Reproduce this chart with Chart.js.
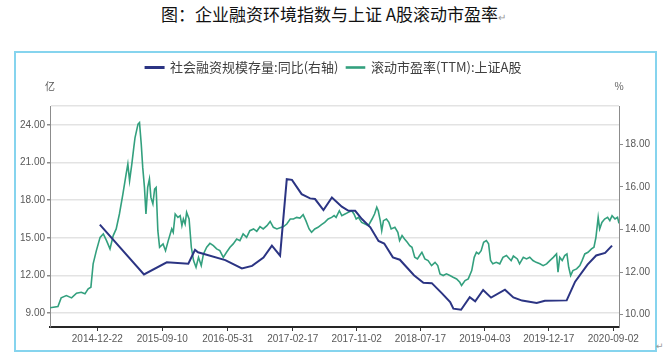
<!DOCTYPE html>
<html>
<head>
<meta charset="utf-8">
<script src="https://cdn.jsdelivr.net/npm/chart.js@4.4.1/dist/chart.umd.min.js"></script>
<style>
  html, body { margin: 0; padding: 0; background: #fff; }
  #wrap { position: relative; width: 667px; height: 354px; overflow: hidden; }
  #title { position: absolute; left: 0; top: 1px; width: 667px; text-align: center;
           font-family: "Noto Sans CJK SC", sans-serif; font-size: 17px; font-weight: 400; color: #111; }
  #title span { color: #999; font-size: 10px; }
  #frame { position: absolute; left: 14px; top: 51px; width: 639px; height: 297px;
           border: 2px solid #86D4EE; }
  #corner { position: absolute; left: 656px; top: 341px; color: #999; font-size: 9px;
            font-family: "DejaVu Sans", sans-serif; }
  #chart { position: absolute; left: 0; top: 0; }
</style>
</head>
<body>
<div id="wrap">
  <div id="title">图：企业融资环境指数与上证 A股滚动市盈率<span>↵</span></div>
  <div id="frame"></div>
  <div id="corner">↵</div>
  <canvas id="chart" width="667" height="354"></canvas>
</div>
<script>
// 横轴刻度
const xTickLabels = ['2014-12-22', '2015-09-10', '2016-05-31', '2017-02-17', '2017-11-02',
                     '2018-07-17', '2019-04-03', '2019-12-17', '2020-09-02'];
const leftTicks = [9, 12, 15, 18, 21, 24];
const rightTicks = [10, 12, 14, 16, 18];

// 社会融资规模存量:同比(右轴)
const tsfDates = ['2015-01-01', '2015-06-28', '2015-09-28', '2015-12-24', '2016-01-20', '2016-02-01',
  '2016-05-21', '2016-07-27', '2016-09-06', '2016-10-22', '2016-11-25', '2016-12-28',
  '2017-01-24', '2017-02-14', '2017-03-25', '2017-04-28', '2017-05-18', '2017-06-21',
  '2017-07-25', '2017-09-03', '2017-09-30', '2017-10-27', '2017-11-23', '2017-12-27',
  '2018-01-29', '2018-02-21', '2018-03-28', '2018-04-25', '2018-06-21', '2018-07-29',
  '2018-09-01', '2018-10-12', '2018-11-14', '2018-11-27', '2018-12-28', '2019-02-01',
  '2019-02-23', '2019-03-27', '2019-04-28', '2019-06-23', '2019-07-27', '2019-08-31',
  '2019-10-29', '2019-12-01', '2020-02-27', '2020-04-01', '2020-05-21', '2020-06-25',
  '2020-07-31', '2020-08-28'];
const tsfValues = [14.23, 11.89, 12.46, 12.39, 13.04, 12.93,
  12.56, 12.17, 12.29, 12.68, 13.24, 12.77,
  16.36, 16.33, 15.66, 15.46, 15.43, 14.91,
  15.50, 15.07, 14.88, 14.88, 14.49, 14.10,
  13.46, 13.34, 12.69, 12.58, 11.85, 11.50,
  11.48, 11.00, 10.59, 10.28, 10.23, 10.82,
  10.63, 11.16, 10.80, 11.17, 10.81, 10.66,
  10.55, 10.65, 10.67, 11.55, 12.35, 12.78,
  12.90, 13.24];

// 滚动市盈率(TTM):上证A股
const peDates = ['2014-06-14', '2014-07-16', '2014-07-29', '2014-08-19', '2014-09-09', '2014-09-29',
  '2014-10-18', '2014-11-02', '2014-11-15', '2014-11-26', '2014-12-05', '2014-12-18',
  '2015-01-02', '2015-01-15', '2015-01-28', '2015-02-11', '2015-02-24', '2015-03-08',
  '2015-03-21', '2015-04-04', '2015-04-17', '2015-04-24', '2015-05-01', '2015-05-10',
  '2015-05-18', '2015-05-23', '2015-06-04', '2015-06-10', '2015-06-17', '2015-06-23',
  '2015-06-30', '2015-07-06', '2015-07-13', '2015-07-20', '2015-07-26', '2015-08-03',
  '2015-08-10', '2015-08-16', '2015-08-23', '2015-08-30', '2015-09-13', '2015-09-23',
  '2015-10-04', '2015-10-18', '2015-10-24', '2015-11-01', '2015-11-12', '2015-11-21',
  '2015-11-28', '2015-12-04', '2015-12-11', '2015-12-17', '2015-12-27', '2016-01-05',
  '2016-01-14', '2016-01-24', '2016-02-03', '2016-02-14', '2016-02-23', '2016-03-07',
  '2016-03-20', '2016-04-03', '2016-04-16', '2016-04-29', '2016-05-13', '2016-05-26',
  '2016-06-09', '2016-06-22', '2016-07-06', '2016-07-19', '2016-08-01', '2016-08-15',
  '2016-08-28', '2016-09-12', '2016-09-25', '2016-10-08', '2016-10-21', '2016-11-05',
  '2016-11-18', '2016-12-01', '2016-12-15', '2016-12-28', '2017-01-11', '2017-01-24',
  '2017-02-07', '2017-02-20', '2017-03-05', '2017-03-18', '2017-03-31', '2017-04-11',
  '2017-04-24', '2017-05-04', '2017-05-17', '2017-05-30', '2017-06-13', '2017-06-26',
  '2017-07-10', '2017-07-24', '2017-08-03', '2017-08-11', '2017-08-24', '2017-09-03',
  '2017-09-16', '2017-09-29', '2017-10-13', '2017-10-22', '2017-10-31', '2017-11-09',
  '2017-11-22', '2017-12-06', '2017-12-19', '2018-01-03', '2018-01-13', '2018-01-22',
  '2018-01-28', '2018-02-05', '2018-02-11', '2018-02-18', '2018-03-02', '2018-03-12',
  '2018-03-21', '2018-04-05', '2018-04-17', '2018-04-24', '2018-05-04', '2018-05-14',
  '2018-05-25', '2018-06-04', '2018-06-13', '2018-06-24', '2018-07-05', '2018-07-14',
  '2018-07-23', '2018-08-04', '2018-08-17', '2018-08-31', '2018-09-14', '2018-09-25',
  '2018-10-04', '2018-10-17', '2018-10-30', '2018-11-13', '2018-11-26', '2018-12-10',
  '2018-12-23', '2018-12-30', '2019-01-13', '2019-01-26', '2019-02-09', '2019-02-19',
  '2019-02-28', '2019-03-09', '2019-03-19', '2019-03-29', '2019-04-09', '2019-04-18',
  '2019-04-26', '2019-05-05', '2019-05-19', '2019-06-02', '2019-06-15', '2019-06-29',
  '2019-07-12', '2019-07-18', '2019-07-27', '2019-08-12', '2019-08-21', '2019-09-05',
  '2019-09-18', '2019-10-01', '2019-10-14', '2019-10-27', '2019-11-11', '2019-11-24',
  '2019-12-08', '2019-12-21', '2020-01-04', '2020-01-17', '2020-01-23', '2020-01-30',
  '2020-02-09', '2020-02-19', '2020-02-28', '2020-03-06', '2020-03-14', '2020-03-23',
  '2020-04-07', '2020-04-20', '2020-04-29', '2020-05-10', '2020-05-23', '2020-06-06',
  '2020-06-16', '2020-06-24', '2020-07-03', '2020-07-09', '2020-07-18', '2020-07-29',
  '2020-08-10', '2020-08-19', '2020-08-28', '2020-09-09', '2020-09-19', '2020-09-25'];
const peValues = [9.43, 9.53, 10.22, 10.40, 10.22, 10.59,
  10.67, 10.54, 10.94, 11.07, 12.93, 13.98,
  15.04, 15.31, 14.78, 14.12, 15.18, 15.71,
  16.90, 18.49, 20.08, 20.87, 19.55, 20.87,
  22.20, 22.99, 24.06, 24.18, 22.47, 20.61,
  19.02, 16.90, 19.02, 19.68, 18.22, 17.70,
  18.89, 19.02, 15.57, 14.25, 14.52, 13.98,
  14.78, 15.71, 15.44, 16.90, 16.63, 16.77,
  15.97, 16.50, 16.10, 17.03, 16.50, 14.25,
  13.19, 12.66, 13.45, 12.79, 13.72, 14.25,
  14.56, 14.38, 14.12, 13.98, 13.45, 13.85,
  14.25, 14.52, 14.91, 14.78, 15.31, 15.04,
  15.57, 15.71, 15.52, 15.89, 15.71, 15.97,
  16.31, 15.84, 15.71, 15.80, 15.90, 16.10,
  16.50, 16.50, 16.63, 16.58, 16.85, 16.37,
  15.71, 15.44, 15.71, 15.84, 16.05, 16.23,
  16.50, 16.63, 16.77, 16.63, 17.16, 16.77,
  16.90, 17.03, 17.16, 16.90, 16.50, 16.63,
  16.23, 16.10, 15.97, 16.50, 16.90, 17.43,
  17.16, 16.37, 15.57, 16.37, 16.50, 16.23,
  15.71, 15.84, 15.44, 14.78, 15.18, 14.91,
  14.64, 14.38, 14.25, 13.45, 13.32, 13.59,
  13.85, 13.32, 13.19, 12.79, 13.05, 12.79,
  12.13, 12.00, 12.13, 12.00, 11.86, 11.73,
  11.46, 11.20, 11.60, 11.73, 12.39, 13.45,
  13.85, 13.72, 13.98, 14.64, 14.78, 14.52,
  13.19, 12.93, 13.05, 12.93, 13.45, 13.59,
  13.32, 13.19, 13.55, 13.32, 12.93, 13.45,
  13.32, 13.45, 13.19, 13.05, 12.93, 12.79,
  12.93, 13.19, 13.45, 13.72, 12.26, 13.45,
  13.19, 13.59, 13.72, 12.66, 12.00, 12.39,
  12.53, 12.79, 13.19, 13.72, 13.85, 14.12,
  14.25, 15.04, 16.63, 15.71, 16.23, 16.50,
  16.63, 16.37, 16.77, 16.50, 16.63, 16.15];

// 日期 -> 天数
function dayOf(s) {
    return Date.parse(s + 'T00:00:00Z') / 86400000;
}

const leftMax = 25.5;
const tickFont = { family: '"Liberation Sans", Arial, sans-serif', size: 10 };
const axisGrey = '#8C8C8C';

// 图例和坐标区之间留空
const legendGap = {
    id: 'legendGap',
    afterInit(chart) {
        const fit = chart.legend.fit;
        chart.legend.fit = function () {
            fit.bind(chart.legend)();
            this.height += 22;
        };
    }
};

// 坐标轴单位
const unitLabels = {
    id: 'unitLabels',
    afterDraw(chart) {
        const { ctx, chartArea, scales } = chart;
        ctx.save();
        ctx.font = '10px "Noto Sans CJK SC", sans-serif';
        ctx.fillStyle = '#595959';
        ctx.textAlign = 'center';
        ctx.textBaseline = 'middle';
        ctx.fillText('亿', scales.y.right, chartArea.top - 20);
        ctx.fillText('%', scales.y1.left, chartArea.top - 20);
        ctx.restore();
    }
};

new Chart(document.getElementById('chart'), {
    type: 'line',
    data: {
        datasets: [{
            label: '社会融资规模存量:同比(右轴)',
            data: tsfDates.map((d, i) => ({ x: dayOf(d), y: tsfValues[i] })),
            borderColor: '#2B3483',
            backgroundColor: '#2B3483',
            borderWidth: 2,
            pointRadius: 0,
            yAxisID: 'y1'
        }, {
            label: '滚动市盈率(TTM):上证A股',
            data: peDates.map((d, i) => ({ x: dayOf(d), y: peValues[i] })),
            borderColor: '#33A07E',
            backgroundColor: '#33A07E',
            borderWidth: 1.6,
            pointRadius: 0,
            yAxisID: 'y'
        }]
    },
    options: {
        responsive: false,
        animation: false,
        layout: { padding: { top: 53, left: 0, right: 0, bottom: 5 } },
        plugins: {
            tooltip: { enabled: false },
            legend: {
                position: 'top',
                labels: {
                    boxWidth: 18,
                    boxHeight: 1,
                    padding: 8,
                    color: '#404040',
                    font: { family: '"Noto Sans CJK SC", sans-serif', size: 13 }
                }
            }
        },
        scales: {
            x: {
                type: 'linear',
                min: dayOf('2014-06-14'),
                max: dayOf('2020-09-25'),
                afterFit: s => { s.height = 22; },
                afterBuildTicks: s => { s.ticks = xTickLabels.map(d => ({ value: dayOf(d) })); },
                ticks: {
                    autoSkip: false,
                    maxRotation: 0,
                    padding: 2,
                    color: '#595959',
                    font: tickFont,
                    callback: (v, i) => xTickLabels[i]
                },
                grid: { drawOnChartArea: false, tickLength: 4, tickColor: '#333' },
                border: { color: '#262626', width: 2 }
            },
            y: {
                position: 'left',
                min: 7.9,
                max: leftMax,
                afterFit: s => { s.width = 50; },
                afterBuildTicks: s => { s.ticks = leftTicks.concat([leftMax]).map(v => ({ value: v })); },
                ticks: {
                    padding: 2,
                    color: '#595959',
                    font: tickFont,
                    callback: v => (v === leftMax ? '' : v.toFixed(2))
                },
                grid: {
                    color: '#E3E3E3',
                    lineWidth: 1.5,
                    tickLength: 3,
                    tickColor: ctx => (ctx.tick && ctx.tick.value === leftMax ? 'rgba(0,0,0,0)' : axisGrey)
                },
                border: { color: axisGrey, width: 1 }
            },
            y1: {
                position: 'right',
                min: 9.42,
                max: 19.8,
                afterFit: s => { s.width = 48; },
                afterBuildTicks: s => { s.ticks = rightTicks.map(v => ({ value: v })); },
                ticks: {
                    padding: 2,
                    color: '#595959',
                    font: tickFont,
                    callback: v => v.toFixed(2)
                },
                grid: { drawOnChartArea: false, tickLength: 4, tickColor: axisGrey },
                border: { color: axisGrey, width: 1 }
            }
        }
    },
    plugins: [legendGap, unitLabels]
});
</script>
</body>
</html>
